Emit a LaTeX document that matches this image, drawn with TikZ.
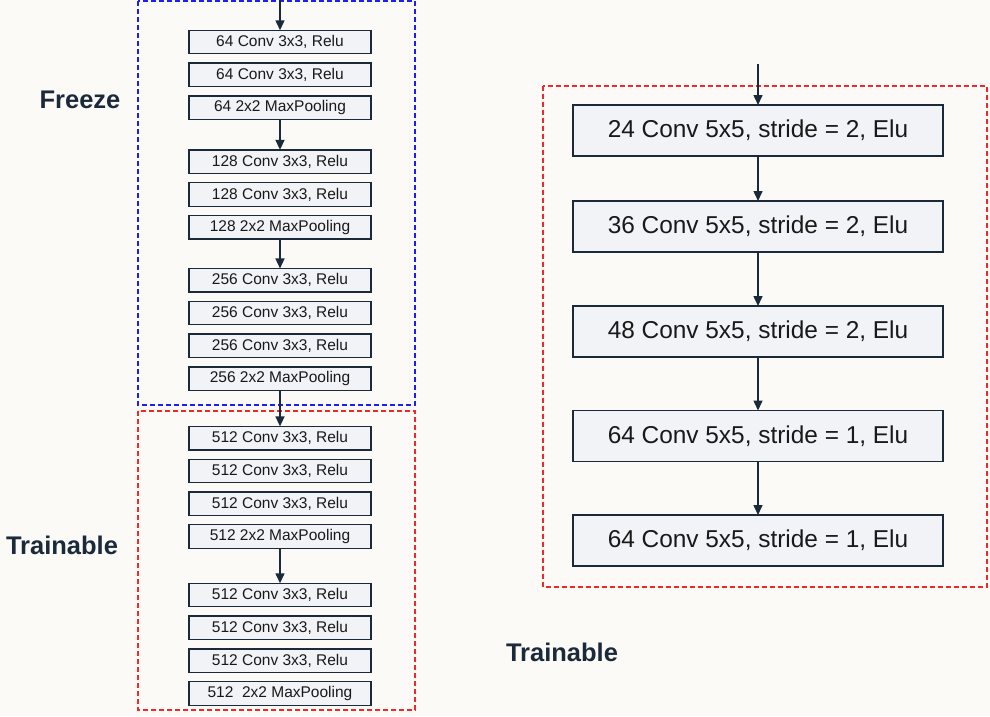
\documentclass[tikz,border=0pt]{standalone}
\usepackage{fontspec}
\setmainfont{Liberation Sans}
\usetikzlibrary{arrows.meta,positioning}
\definecolor{bgcol}{HTML}{FBFAF7}
\definecolor{boxfill}{HTML}{F2F3F6}
\definecolor{inkcol}{HTML}{1B2A3B}
\definecolor{frzblue}{HTML}{1E1EF0}
\definecolor{trnred}{HTML}{F02828}

\begin{document}
\begin{tikzpicture}[
    x=1pt, y=-1pt,
    >={Triangle[length=10pt,width=9pt]},
    layer/.style={
      draw=inkcol,
      line width=1.3pt,
      fill=boxfill,
      text=black!90,
      minimum width=182pt,
      minimum height=23.5pt,
      inner sep=0pt,
      outer sep=0pt,
      font=\fontsize{15.5}{18}\selectfont,
    },
    biglayer/.style={
      layer,
      minimum width=370pt,
      minimum height=51pt,
      font=\fontsize{24.4}{28}\selectfont,
    },
    flow/.style={->, draw=inkcol, line width=1.5pt},
    frame/.style={line width=1.5pt, dash pattern=on 5pt off 3pt},
    tag/.style={text=inkcol, font=\fontsize{25.5}{30}\selectfont\bfseries},
  ]
    \path[use as bounding box, fill=bgcol] (0,0) rectangle (990,716);

    % frames
    \draw[frame, frzblue] (138,1) rectangle (415,405);
    \draw[frame, trnred] (138,411) rectangle (415,710);
    \draw[frame, trnred] (543,86) rectangle (987,587);

    \node[tag] (freeze) at (80,100) {Freeze};
    \node[tag] (trainl) at (62,545) {Trainable};
    \node[tag] (trainr) at (562,652) {Trainable};

    % VGG part
    \coordinate (inl) at (280,0);
    \node[layer] (c64a) at (280,42) {64 Conv 3x3, Relu};
    \node[layer,below=9.3pt of c64a] (c64b) {64 Conv 3x3, Relu};
    \node[layer,below=9.3pt of c64b] (p64) {64 2x2 MaxPooling};
    \node[layer,below=30.5pt of p64] (c128a) {128 Conv 3x3, Relu};
    \node[layer,below=9.3pt of c128a] (c128b) {128 Conv 3x3, Relu};
    \node[layer,below=9.3pt of c128b] (p128) {128 2x2 MaxPooling};
    \node[layer,below=29.5pt of p128] (c256a) {256 Conv 3x3, Relu};
    \node[layer,below=9.3pt of c256a] (c256b) {256 Conv 3x3, Relu};
    \node[layer,below=9.3pt of c256b] (c256c) {256 Conv 3x3, Relu};
    \node[layer,below=9.3pt of c256c] (p256) {256 2x2 MaxPooling};
    \node[layer,below=36pt of p256] (c512a) {512 Conv 3x3, Relu};
    \node[layer,below=9.3pt of c512a] (c512b) {512 Conv 3x3, Relu};
    \node[layer,below=9.3pt of c512b] (c512c) {512 Conv 3x3, Relu};
    \node[layer,below=9.3pt of c512c] (p512) {512 2x2 MaxPooling};
    \node[layer,below=35pt of p512] (c512d) {512 Conv 3x3, Relu};
    \node[layer,below=9.3pt of c512d] (c512e) {512 Conv 3x3, Relu};
    \node[layer,below=9.3pt of c512e] (c512f) {512 Conv 3x3, Relu};
    \node[layer,below=9.3pt of c512f] (p512b) {512\ \ 2x2 MaxPooling};

    \draw[flow] (inl) -- (c64a);
    \draw[flow] (p64) -- (c128a);
    \draw[flow] (p128) -- (c256a);
    \draw[flow] (p256) -- (c512a);
    \draw[flow] (p512) -- (c512d);

    % trainable head
    \coordinate (inr) at (758,64);
    \node[biglayer] (s24) at (758,130.5) {24 Conv 5x5, stride = 2, Elu};
    \node[biglayer,below=45pt of s24] (s36) {36 Conv 5x5, stride = 2, Elu};
    \node[biglayer,below=54pt of s36] (s48) {48 Conv 5x5, stride = 2, Elu};
    \node[biglayer,below=53.5pt of s48] (s64a) {64 Conv 5x5, stride = 1, Elu};
    \node[biglayer,below=53.5pt of s64a] (s64b) {64 Conv 5x5, stride = 1, Elu};

    \draw[flow] (inr) -- (s24);
    \draw[flow] (s24) -- (s36);
    \draw[flow] (s36) -- (s48);
    \draw[flow] (s48) -- (s64a);
    \draw[flow] (s64a) -- (s64b);
  \end{tikzpicture}
\end{document}
